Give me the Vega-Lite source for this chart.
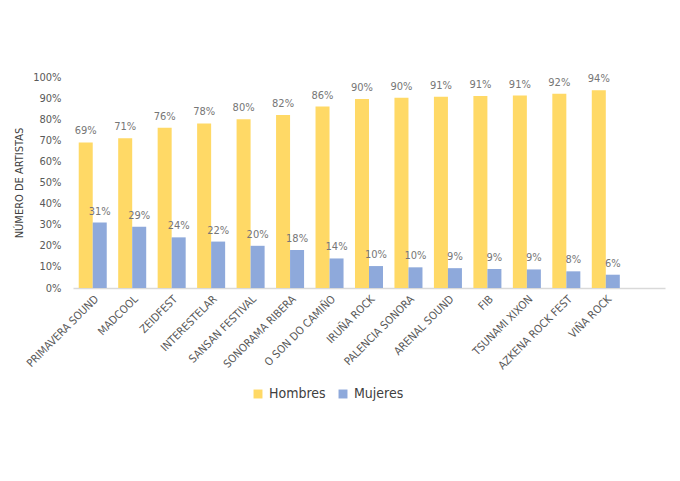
{
  "$schema": "https://vega.github.io/schema/vega-lite/v6.json",
  "autosize": {"type": "none"},
  "padding": {"left": 73, "top": 77, "right": 15, "bottom": 193},
  "width": 592,
  "height": 211,
  "background": "white",
  "config": {
    "font": "DejaVu Sans Condensed, sans-serif",
    "view": {"stroke": null}
  },
  "data": {
    "values": [
      {"festival": "PRIMAVERA  SOUND", "sexo": "Hombres", "pct": 0.69},
      {"festival": "PRIMAVERA  SOUND", "sexo": "Mujeres", "pct": 0.31},
      {"festival": "MADCOOL", "sexo": "Hombres", "pct": 0.71},
      {"festival": "MADCOOL", "sexo": "Mujeres", "pct": 0.29},
      {"festival": "ZEIDFEST", "sexo": "Hombres", "pct": 0.76},
      {"festival": "ZEIDFEST", "sexo": "Mujeres", "pct": 0.24},
      {"festival": "INTERESTELAR", "sexo": "Hombres", "pct": 0.78},
      {"festival": "INTERESTELAR", "sexo": "Mujeres", "pct": 0.22},
      {"festival": "SANSAN  FESTIVAL", "sexo": "Hombres", "pct": 0.80},
      {"festival": "SANSAN  FESTIVAL", "sexo": "Mujeres", "pct": 0.20},
      {"festival": "SONORAMA  RIBERA", "sexo": "Hombres", "pct": 0.82},
      {"festival": "SONORAMA  RIBERA", "sexo": "Mujeres", "pct": 0.18},
      {"festival": "O SON  DO CAMIÑO", "sexo": "Hombres", "pct": 0.86},
      {"festival": "O SON  DO CAMIÑO", "sexo": "Mujeres", "pct": 0.14},
      {"festival": "IRUÑA ROCK", "sexo": "Hombres", "pct": 0.896},
      {"festival": "IRUÑA ROCK", "sexo": "Mujeres", "pct": 0.104},
      {"festival": "PALENCIA  SONORA", "sexo": "Hombres", "pct": 0.902},
      {"festival": "PALENCIA  SONORA", "sexo": "Mujeres", "pct": 0.098},
      {"festival": "ARENAL  SOUND", "sexo": "Hombres", "pct": 0.906},
      {"festival": "ARENAL  SOUND", "sexo": "Mujeres", "pct": 0.094},
      {"festival": "FIB", "sexo": "Hombres", "pct": 0.91},
      {"festival": "FIB", "sexo": "Mujeres", "pct": 0.09},
      {"festival": "TSUNAMI  XIXON", "sexo": "Hombres", "pct": 0.912},
      {"festival": "TSUNAMI  XIXON", "sexo": "Mujeres", "pct": 0.088},
      {"festival": "AZKENA ROCK FEST", "sexo": "Hombres", "pct": 0.921},
      {"festival": "AZKENA ROCK FEST", "sexo": "Mujeres", "pct": 0.079},
      {"festival": "VIÑA ROCK", "sexo": "Hombres", "pct": 0.937},
      {"festival": "VIÑA ROCK", "sexo": "Mujeres", "pct": 0.063}
    ]
  },
  "encoding": {
    "x": {
      "field": "festival",
      "type": "nominal",
      "sort": null,
      "scale": {
        "domain": ["PRIMAVERA  SOUND", "MADCOOL", "ZEIDFEST", "INTERESTELAR", "SANSAN  FESTIVAL", "SONORAMA  RIBERA", "O SON  DO CAMIÑO", "IRUÑA ROCK", "PALENCIA  SONORA", "ARENAL  SOUND", "FIB", "TSUNAMI  XIXON", "AZKENA ROCK FEST", "VIÑA ROCK", " "],
        "paddingInner": 0.29,
        "paddingOuter": 0.145
      },
      "axis": {
        "title": null,
        "labelAngle": -45,
        "labelAlign": "right",
        "labelBaseline": "top",
        "labelFontSize": 11,
        "labelColor": "#595959",
        "labelPadding": 5,
        "ticks": false,
        "domainColor": "#d9d9d9",
        "domainWidth": 1.5
      }
    },
    "xOffset": {"field": "sexo", "type": "nominal", "sort": ["Hombres", "Mujeres"]},
    "y": {
      "field": "pct",
      "type": "quantitative",
      "scale": {"domain": [0, 1]},
      "axis": {
        "title": "NÚMERO DE ARTISTAS",
        "titleFontSize": 11,
        "titleFontWeight": "normal",
        "titleColor": "#404040",
        "titlePadding": 8,
        "values": [0, 0.1, 0.2, 0.3, 0.4, 0.5, 0.6, 0.7, 0.8, 0.9, 1],
        "format": ".0%",
        "labelFontSize": 11,
        "labelColor": "#595959",
        "labelPadding": 12,
        "grid": false,
        "domain": false,
        "ticks": false
      }
    }
  },
  "layer": [
    {
      "mark": {"type": "bar"},
      "encoding": {
        "color": {
          "field": "sexo",
          "type": "nominal",
          "scale": {"domain": ["Hombres", "Mujeres"], "range": ["#FFD966", "#8EA9DB"]},
          "legend": {
            "title": null,
            "orient": "none",
            "direction": "horizontal",
            "legendX": 178,
            "legendY": 310,
            "symbolType": "square",
            "symbolSize": 80,
            "symbolStrokeWidth": 0,
            "labelFontSize": 14,
            "labelColor": "#404040",
            "columnPadding": 10
          }
        }
      }
    },
    {
      "mark": {"type": "text", "baseline": "alphabetic", "dy": -8, "fontSize": 11, "color": "#767676"},
      "encoding": {
        "text": {"field": "pct", "type": "quantitative", "format": ".0%"}
      }
    }
  ]
}
